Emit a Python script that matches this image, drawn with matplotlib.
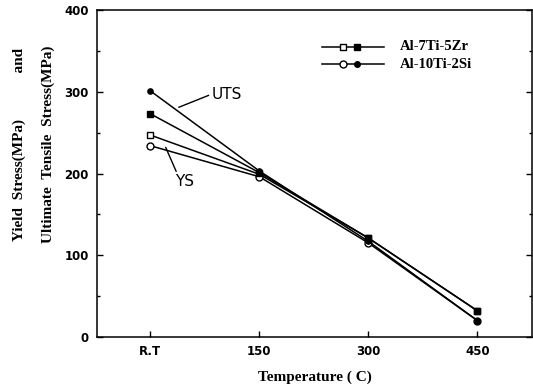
import numpy as np
import matplotlib.pyplot as plt
from matplotlib.ticker import MultipleLocator

# Data
temps = ['R.T', '150', '300', '450']
uts_7ti5zr = [273, 201, 121, 32]
ys_7ti5zr = [247, 199, 121, 32]
uts_10ti2si = [301, 203, 117, 20]
ys_10ti2si = [234, 196, 115, 20]
alloys = ['Al-7Ti-5Zr', 'Al-10Ti-2Si']

x = np.arange(len(temps))

fig = plt.figure(figsize=(5.33, 3.86), dpi=100)
ax = fig.add_axes([0.182, 0.127, 0.816, 0.847])

lw = 1.1
# yield stress (open markers) underneath, tensile (filled) on top
ax.plot(x, ys_7ti5zr, color='black', lw=lw, marker='s', ms=4.5, mfc='white')
ax.plot(x, ys_10ti2si, color='black', lw=lw, marker='o', ms=5, mfc='white')
ax.plot(x, uts_10ti2si, color='black', lw=lw, marker='o', ms=3.8, mfc='black')
ax.plot(x, uts_7ti5zr, color='black', lw=lw, marker='s', ms=3.8, mfc='black')

ax.set_xlim(-0.49, 3.5)
ax.set_ylim(0, 400)
ax.set_xticks(x)
ax.set_xticklabels(temps)
ax.yaxis.set_major_locator(MultipleLocator(100))
ax.yaxis.set_minor_locator(MultipleLocator(50))
ax.tick_params(direction='in', which='both', right=True, length=4, width=1,
               labelsize=8.5, pad=6)
ax.tick_params(which='minor', length=2.5)
for lab in ax.get_xticklabels() + ax.get_yticklabels():
    lab.set_fontweight('bold')
for s in ax.spines.values():
    s.set_linewidth(1.1)

serif = {'family': 'Liberation Serif', 'weight': 'bold'}
ax.set_xlabel('Temperature ( C)', fontdict=serif, fontsize=11, labelpad=9)
fig.text(0.036, 0.625, 'Yield  Stress(MPa)            and', rotation=90,
         ha='center', va='center', fontdict=serif, fontsize=11)
fig.text(0.09, 0.625, 'Ultimate  Tensile  Stress(MPa)', rotation=90,
         ha='center', va='center', fontdict=serif, fontsize=11)

# UTS / YS callouts
ax.annotate('UTS', xy=(0.26, 281), xytext=(0.56, 297), fontsize=11,
            va='center', ha='left',
            arrowprops=dict(arrowstyle='-', color='black', lw=1,
                            shrinkA=0, shrinkB=0, relpos=(0, 0.5)))
ax.annotate('YS', xy=(0.14, 232), xytext=(0.23, 190), fontsize=11,
            va='center', ha='left',
            arrowprops=dict(arrowstyle='-', color='black', lw=1,
                            shrinkA=0, shrinkB=0, relpos=(0.1, 1)))

# legend drawn by hand: open marker (YS) then filled marker (UTS)
markers = ['s', 'o']
for i, (name, m) in enumerate(zip(alloys, markers)):
    yy = 0.887 - i * 0.053
    ax.plot([0.518, 0.66], [yy, yy], color='black', lw=lw, transform=ax.transAxes)
    ax.plot([0.565], [yy], marker=m, ms=5, mfc='white', mec='black',
            transform=ax.transAxes)
    ax.plot([0.598], [yy], marker=m, ms=4, mfc='black', mec='black',
            transform=ax.transAxes)
    ax.text(0.697, yy, name, transform=ax.transAxes, va='center', ha='left',
            fontdict=serif, fontsize=10.5)

plt.savefig('out.png', dpi=100)
